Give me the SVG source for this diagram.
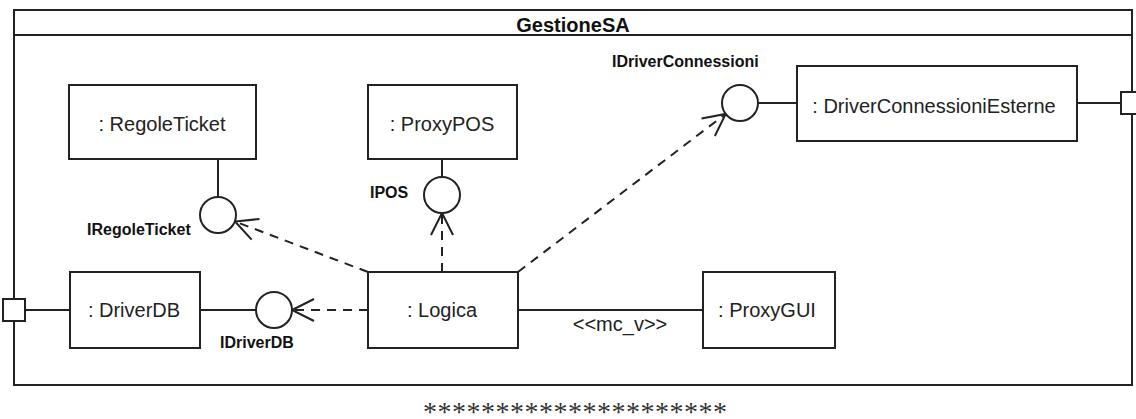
<svg xmlns="http://www.w3.org/2000/svg" width="1136" height="419" viewBox="0 0 1136 419">
<style>
.frame{fill:none;stroke:#222;stroke-width:2}
.box{fill:#fff;stroke:#222;stroke-width:2}
.iface{fill:#fff;stroke:#222;stroke-width:2}
.solid{fill:none;stroke:#222;stroke-width:2}
.dash{fill:none;stroke:#222;stroke-width:2;stroke-dasharray:9,7}
.lbl{font-family:"Liberation Sans",Arial,sans-serif;font-size:20px;fill:#222;text-anchor:middle}
.ilbl{font-family:"Liberation Sans",Arial,sans-serif;font-size:16px;font-weight:bold;fill:#111}
.title{font-family:"Liberation Sans",Arial,sans-serif;font-size:20px;font-weight:bold;fill:#111;text-anchor:middle}
</style>
<defs>
<marker id="open" markerUnits="userSpaceOnUse" markerWidth="30" markerHeight="30" viewBox="-26 -15 30 30" refX="0" refY="0" orient="auto" overflow="visible">
<path d="M-22,-11 L0,0 L-22,11" fill="none" stroke="#222" stroke-width="2"/>
</marker>
</defs>
<rect width="1136" height="419" fill="#fff"/>

<g id="GestioneSA">
<rect class="frame" x="14" y="10" width="1118" height="375"/>
<line class="frame" x1="14" y1="35" x2="1132" y2="35"/>
<text class="title" x="573" y="32">GestioneSA</text>
</g>

<g id="connectors">
<line class="solid" x1="25" y1="310" x2="70" y2="310"/>
<line class="solid" x1="1077" y1="103" x2="1121" y2="103"/>
<line class="solid" x1="218" y1="159" x2="218" y2="197"/>
<line class="solid" x1="442" y1="159" x2="442" y2="177"/>
<line class="solid" x1="200" y1="310" x2="256" y2="310"/>
<line class="solid" x1="758" y1="103" x2="797" y2="103"/>
<line class="solid" x1="518" y1="310" x2="703" y2="310"/>
<text class="lbl" x="620" y="331">&lt;&lt;mc_v&gt;&gt;</text>
<line class="dash" x1="368" y1="272" x2="235" y2="221.5" marker-end="url(#open)"/>
<line class="dash" x1="442" y1="272" x2="442" y2="213" marker-end="url(#open)"/>
<line class="dash" x1="518" y1="272" x2="725.7" y2="113.9" marker-end="url(#open)"/>
<line class="dash" x1="368" y1="310" x2="292" y2="310" marker-end="url(#open)"/>
</g>

<g id="portLeft"><rect class="box" x="3" y="299" width="22" height="22"/></g>
<g id="portRight"><rect class="box" x="1121" y="92" width="22" height="22"/></g>

<g id="RegoleTicket">
<rect class="box" x="69" y="85" width="187" height="74"/>
<text class="lbl" x="162" y="131">: RegoleTicket</text>
</g>
<g id="ProxyPOS">
<rect class="box" x="368" y="85" width="149" height="74"/>
<text class="lbl" x="442" y="131">: ProxyPOS</text>
</g>
<g id="DriverConnessioniEsterne">
<rect class="box" x="797" y="66" width="280" height="75"/>
<text class="lbl" x="934" y="113">: DriverConnessioniEsterne</text>
</g>
<g id="DriverDB">
<rect class="box" x="70" y="272" width="130" height="76"/>
<text class="lbl" x="134" y="317">: DriverDB</text>
</g>
<g id="Logica">
<rect class="box" x="368" y="272" width="150" height="76"/>
<text class="lbl" x="442" y="317">: Logica</text>
</g>
<g id="ProxyGUI">
<rect class="box" x="703" y="272" width="132" height="76"/>
<text class="lbl" x="767" y="317">: ProxyGUI</text>
</g>

<g id="IRegoleTicket">
<circle class="iface" cx="218" cy="215" r="18"/>
<text class="ilbl" x="87" y="235">IRegoleTicket</text>
</g>
<g id="IPOS">
<circle class="iface" cx="442" cy="195" r="18"/>
<text class="ilbl" x="370" y="198">IPOS</text>
</g>
<g id="IDriverConnessioni">
<circle class="iface" cx="740" cy="103" r="18"/>
<text class="ilbl" x="612" y="67">IDriverConnessioni</text>
</g>
<g id="IDriverDB">
<circle class="iface" cx="274" cy="310" r="18"/>
<text class="ilbl" x="220" y="348">IDriverDB</text>
</g>

<text x="575" y="421" font-family="'Liberation Serif','Times New Roman',serif" font-size="28" fill="#333" text-anchor="middle" textLength="304" lengthAdjust="spacing">*********************</text>
</svg>
